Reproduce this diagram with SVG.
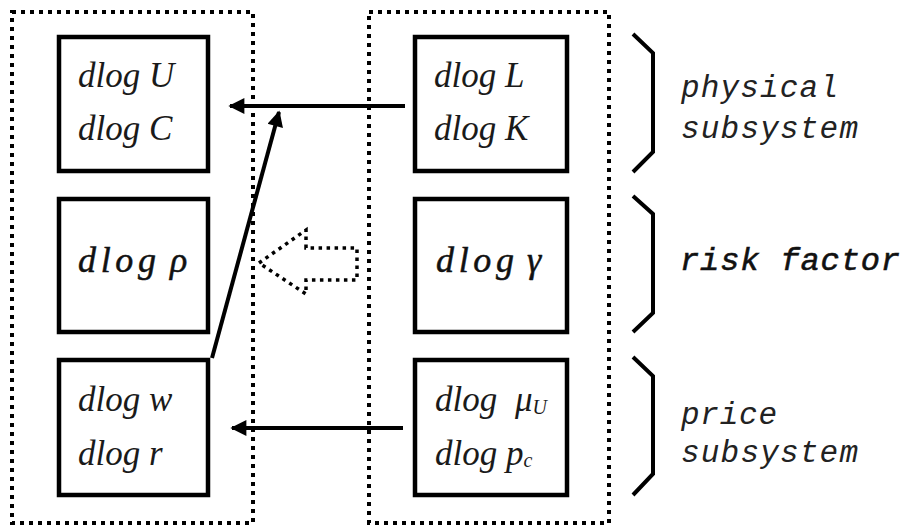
<svg xmlns="http://www.w3.org/2000/svg" width="906" height="527" viewBox="0 0 906 527">
<style>
.frame{fill:none;stroke:#000;stroke-width:4;stroke-dasharray:4 5}
.box{fill:#fff;stroke:#000;stroke-width:4.5}
.t{font-family:"Liberation Serif",serif;font-style:italic;font-size:35px;fill:#1a1a1a}
.tb{font-family:"Liberation Serif",serif;font-style:italic;font-size:36px;fill:#111;stroke:#111;stroke-width:0.5}
.lab{font-family:"Liberation Mono",monospace;font-style:italic;font-size:31px;fill:#222}
.labb{font-family:"Liberation Mono",monospace;font-style:italic;font-size:32px;fill:#111;stroke:#111;stroke-width:0.6}
.brace{fill:none;stroke:#000;stroke-width:4;stroke-linejoin:miter}
.conn{fill:none;stroke:#000;stroke-width:4}
.hollow{fill:none;stroke:#000;stroke-width:3.5;stroke-dasharray:3.5 4.5}
</style>
<defs>
<marker id="ah" viewBox="0 0 10 10" refX="9" refY="5" markerWidth="4.5" markerHeight="4" orient="auto" markerUnits="strokeWidth">
<path d="M0,0 L10,5 L0,10 z" fill="#000"/>
</marker>
</defs>
<g id="frame-left"><rect class="frame" x="12" y="12" width="241" height="511"/></g>
<g id="frame-right"><rect class="frame" x="369" y="12" width="240" height="511"/></g>

<g id="node-UC">
<rect class="box" x="59" y="37" width="149" height="134"/>
<text class="t" x="78" y="87">dlog U</text>
<text class="t" x="78" y="140">dlog C</text>
</g>
<g id="node-rho">
<rect class="box" x="59" y="199" width="149" height="133"/>
<text class="tb" x="78" y="272" textLength="78">dlog</text>
<text class="tb" x="170" y="272">ρ</text>
</g>
<g id="node-wr">
<rect class="box" x="59" y="360" width="149" height="135"/>
<text class="t" x="78" y="411">dlog w</text>
<text class="t" x="78" y="465">dlog r</text>
</g>
<g id="node-LK">
<rect class="box" x="415" y="37" width="152" height="134"/>
<text class="t" x="434" y="87">dlog L</text>
<text class="t" x="434" y="140">dlog K</text>
</g>
<g id="node-gamma">
<rect class="box" x="415" y="199" width="152" height="133"/>
<text class="tb" x="436" y="272" textLength="78">dlog</text>
<text class="tb" x="527" y="272">γ</text>
</g>
<g id="node-mup">
<rect class="box" x="415" y="360" width="152" height="135"/>
<text class="t" x="435" y="411">dlog<tspan x="515">μ</tspan><tspan font-size="20" dy="3">U</tspan></text>
<text class="t" x="435" y="465">dlog p<tspan font-size="20" dy="2">c</tspan></text>
</g>

<g id="connectors">
<line class="conn" x1="405" y1="106" x2="230" y2="106" marker-end="url(#ah)"/>
<line class="conn" x1="403" y1="428" x2="232" y2="428" marker-end="url(#ah)"/>
<line class="conn" x1="212" y1="358" x2="279" y2="112" stroke-width="3.5" marker-end="url(#ah)"/>
<polygon class="hollow" points="259,263 306,230 306,248 357,248 357,280 306,280 306,294"/>
</g>

<g id="brace-physical">
<polyline class="brace" points="633,34 653,53 653,152 633,172"/>
<text class="lab" x="681" y="97" textLength="157">physical</text>
<text class="lab" x="681" y="138" textLength="177">subsystem</text>
</g>
<g id="brace-risk">
<polyline class="brace" points="633,196 653,214 653,313 633,332"/>
<text class="labb" x="680" y="270" textLength="220">risk factor</text>
</g>
<g id="brace-price">
<polyline class="brace" points="633,357 653,376 653,474 633,495"/>
<text class="lab" x="681" y="424" textLength="96">price</text>
<text class="lab" x="681" y="462" textLength="177">subsystem</text>
</g>
</svg>
